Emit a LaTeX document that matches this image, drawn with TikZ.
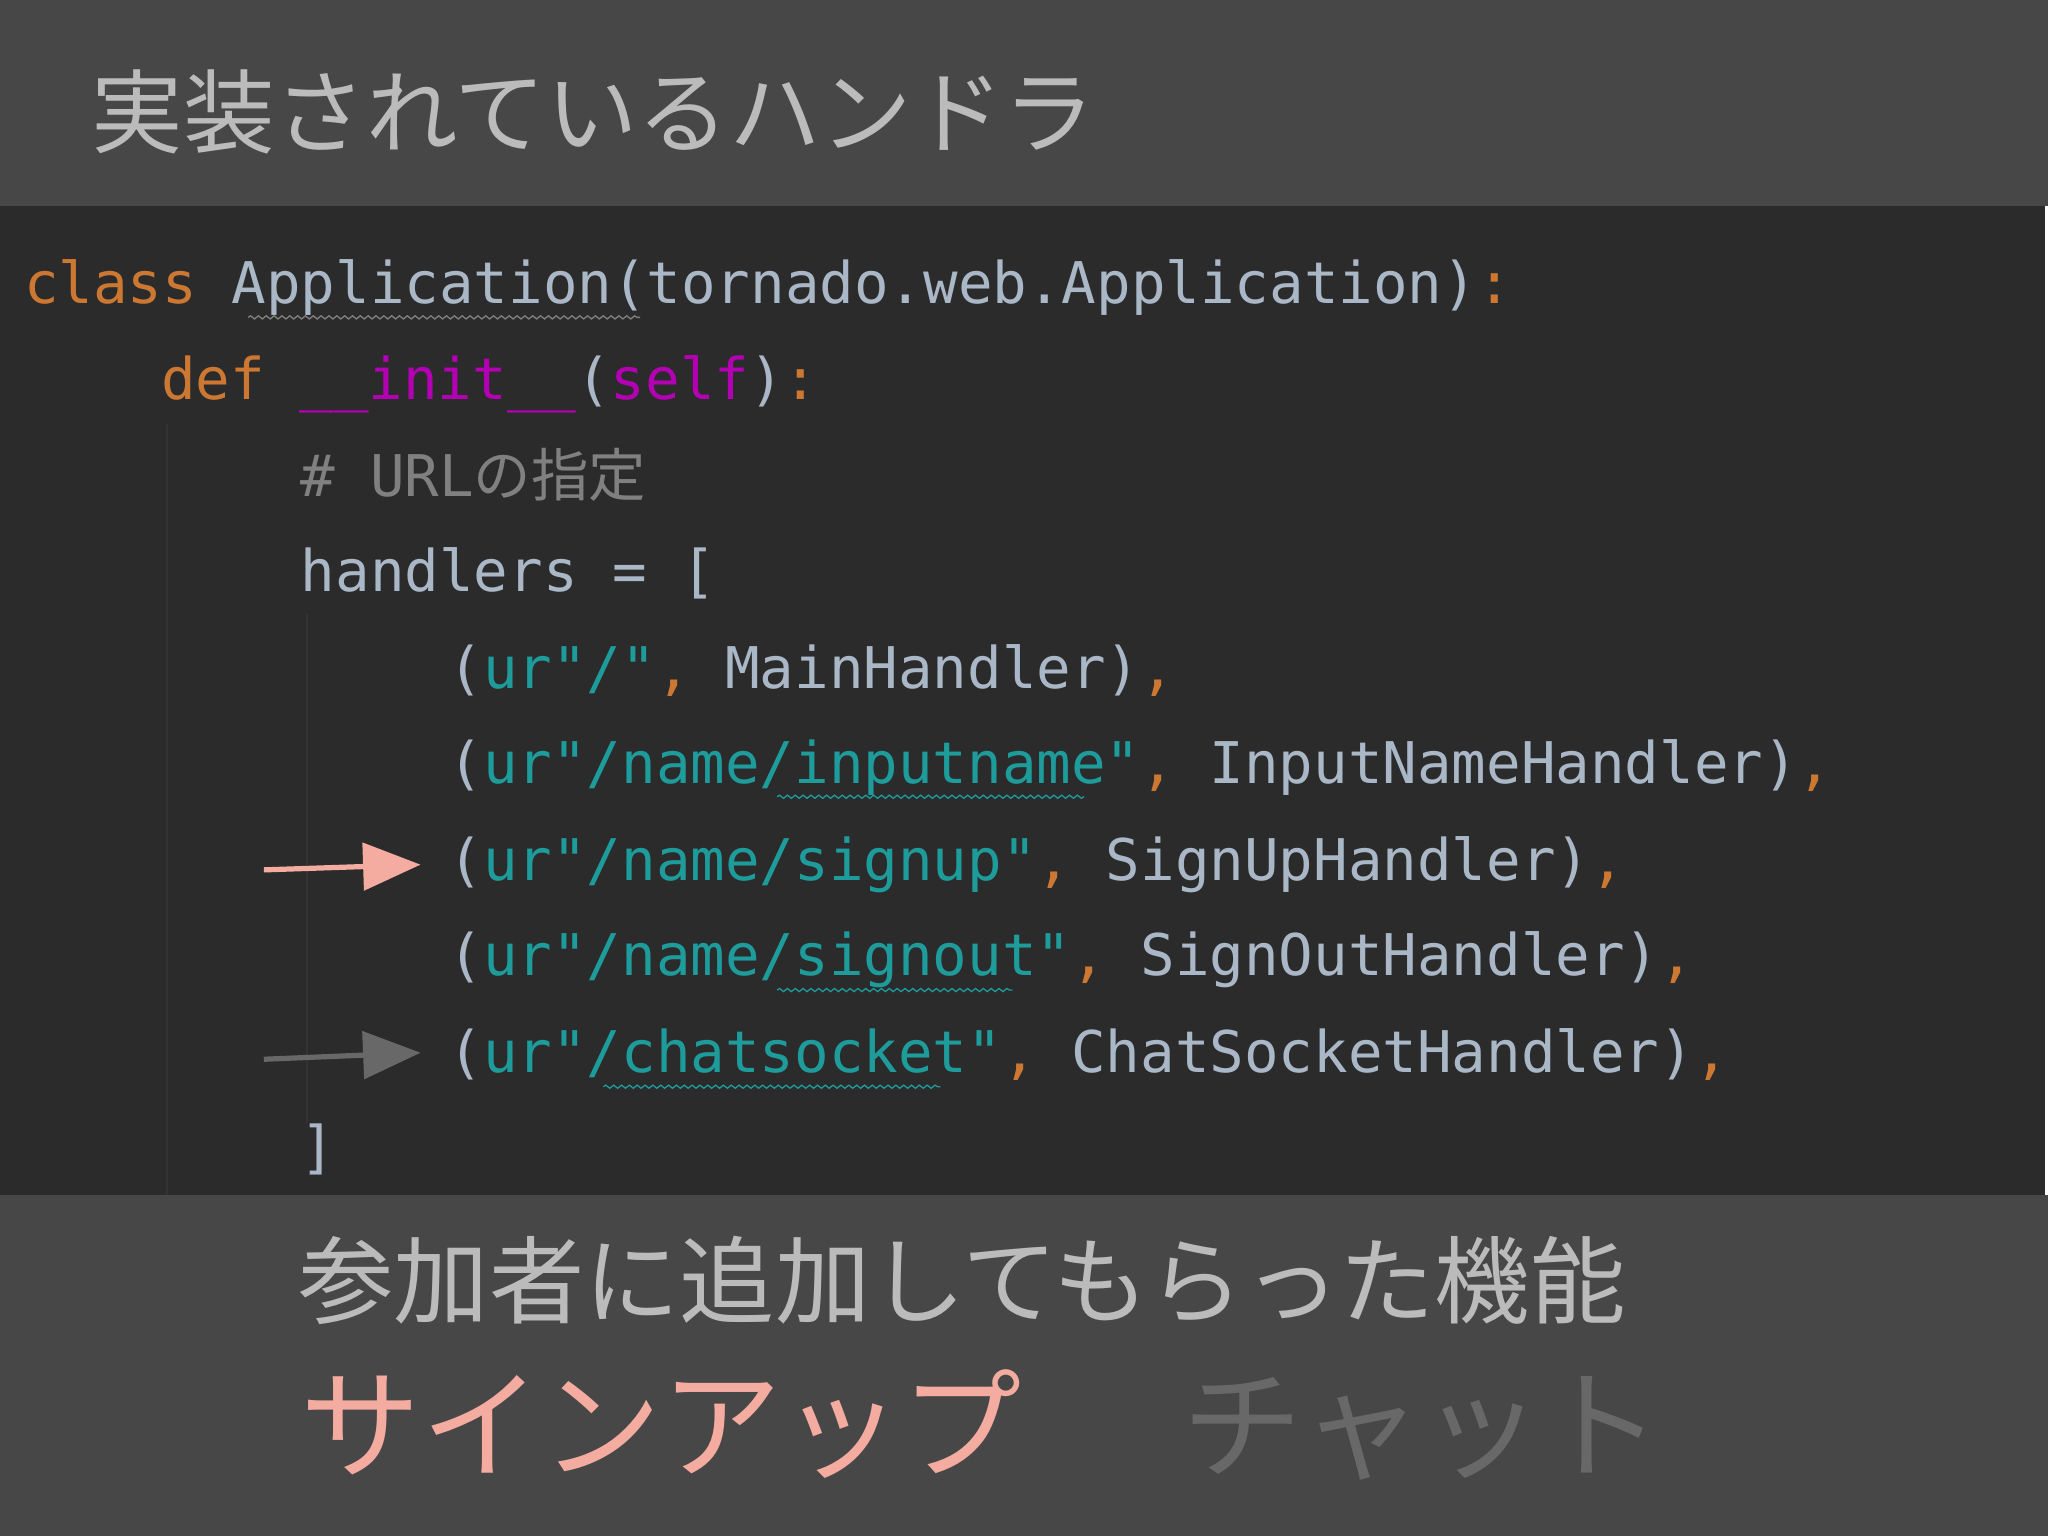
\documentclass[tikz,border=0pt]{standalone}
\usepackage{fontspec}
\setmonofont{DejaVu Sans Mono}
\newfontfamily\jp{Noto Sans CJK JP}
\usetikzlibrary{decorations.pathmorphing,arrows.meta}
\definecolor{band}{HTML}{474747}
\definecolor{codebg}{HTML}{2B2B2B}
\definecolor{kw}{HTML}{CC7832}
\definecolor{txt}{HTML}{A9B7C6}
\definecolor{mag}{HTML}{B200B2}
\definecolor{cmt}{HTML}{808080}
\definecolor{str}{HTML}{1E9C9C}
\definecolor{salmon}{HTML}{F4ABA0}
\definecolor{title}{HTML}{BBBBBB}
\definecolor{dim}{HTML}{686868}
\newcommand{\K}[1]{\textcolor{kw}{#1}}
\newcommand{\M}[1]{\textcolor{mag}{#1}}
\newcommand{\St}[1]{\textcolor{str}{#1}}
\begin{document}
\begin{tikzpicture}[x=0.5pt,y=-0.5pt,
  code/.style={anchor=base west,inner sep=0,font=\ttfamily\fontsize{22pt}{22pt}\selectfont,text=txt},
  squig/.style={decorate,decoration={snake,amplitude=0.6pt,segment length=3pt},line width=0.5pt},
  arr/.style={line width=2pt,-{Triangle[length=22pt,width=18pt]}}]
\useasboundingbox (0,0) rectangle (1568,1176);
\fill[band] (0,0) rectangle (1568,158);
\fill[codebg] (0,158) rectangle (1566,915);
\fill[band] (0,915) rectangle (1568,1176);
\draw[line width=1pt,color=black!80] (128,325) -- (128,915);
\draw[line width=1pt,color=black!80] (235,470) -- (235,860);
\node[anchor=base west,inner sep=0,text=title,font=\jp\fontsize{35pt}{35pt}\selectfont] (t) at (70,112) {実装されているハンドラ};
\node[code] (l1) at (18,232) {\K{class} Application(tornado.web.Application)\K{:}};
\node[code] (l2) at (123,306) {\K{def} \M{\_\_init\_\_}(\M{self})\K{:}};
\node[code,text=cmt] (l3) at (230,380) {\# URL{\jp\fontsize{22pt}{22pt}\selectfont の指定}};
\node[code] (l4) at (230,453) {handlers = [};
\node[code] (l5) at (343,527) {(\St{ur"/"}\K{,} MainHandler)\K{,}};
\node[code] (l6) at (343,600) {(\St{ur"/name/inputname"}\K{,} InputNameHandler)\K{,}};
\node[code] (l7) at (343,674) {(\St{ur"/name/signup"}\K{,} SignUpHandler)\K{,}};
\node[code] (l8) at (343,747) {(\St{ur"/name/signout"}\K{,} SignOutHandler)\K{,}};
\node[code] (l9) at (343,821) {(\St{ur"/chatsocket"}\K{,} ChatSocketHandler)\K{,}};
\node[code] (l10) at (230,894) {]};
\draw[squig,cmt] (190,243) -- (490,243);
\draw[squig,str] (595,610) -- (830,610);
\draw[squig,str] (595,758) -- (775,758);
\draw[squig,str] (462,832) -- (720,832);
\coordinate (a1) at (202,666);
\coordinate (e1) at (322,662);
\coordinate (a2) at (202,811);
\coordinate (e2) at (322,806);
\draw[arr,salmon] (a1) -- (e1);
\draw[arr,dim] (a2) -- (e2);
\node[anchor=base west,inner sep=0,text=title,font=\jp\fontsize{36.5pt}{36.5pt}\selectfont] (b1) at (228,1008) {参加者に追加してもらった機能};
\node[anchor=base west,inner sep=0,text=salmon,font=\jp\fontsize{46pt}{46pt}\selectfont] (b2) at (230,1125) {サインアップ};
\node[anchor=base west,inner sep=0,text=dim,font=\jp\fontsize{46pt}{46pt}\selectfont] (b3) at (905,1125) {チャット};
\end{tikzpicture}
\end{document}
